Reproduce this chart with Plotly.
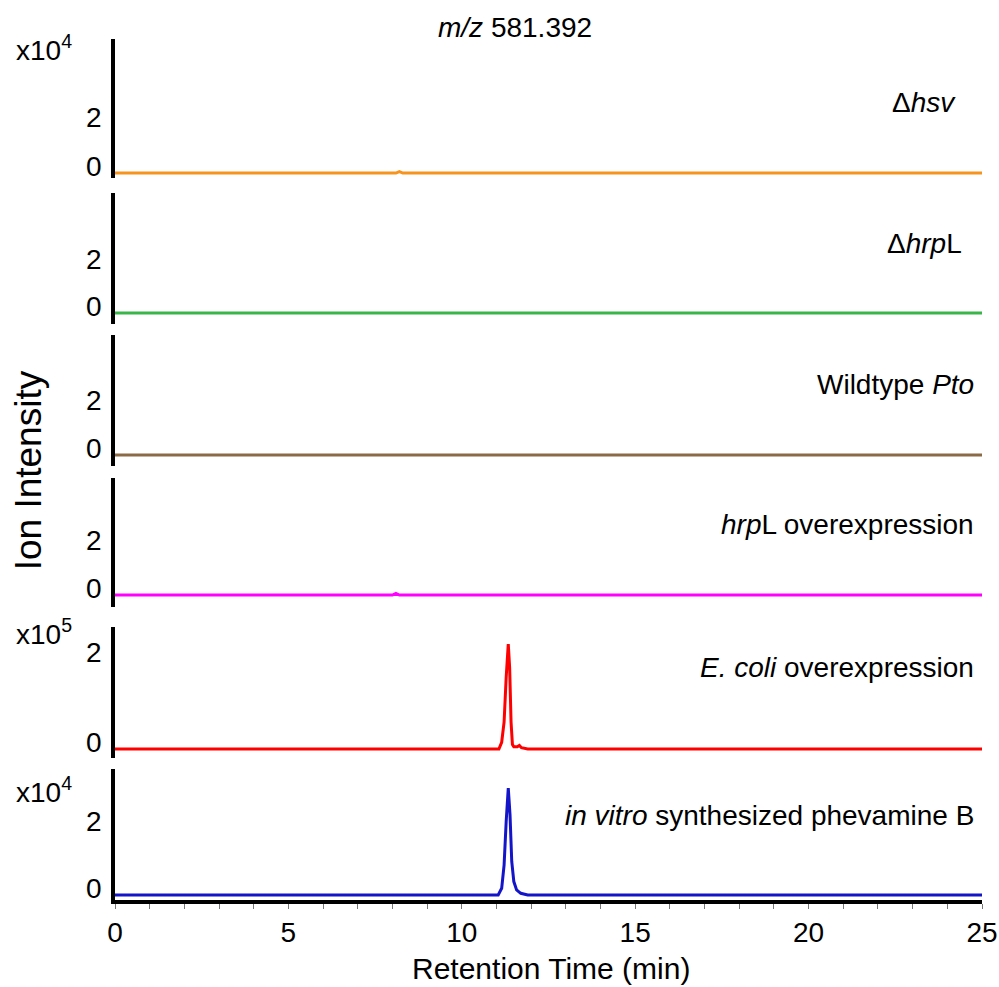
import plotly.graph_objects as go

# ---------------- data (values in panel units: x10^4 or x10^5) ----------------
panel_labels = ["Δ<i>hsv</i>", "Δ<i>hrp</i>L", "Wildtype <i>Pto</i>",
                "<i>hrp</i>L overexpression", "<i>E. coli</i> overexpression",
                "<i>in vitro</i> synthesized phevamine B"]
panel_colors = ["#F7941D", "#39B54A", "#8B6A45", "#FF00FF", "#FF0000", "#1414C8"]
scale_labels = ["x10<sup>4</sup>", None, None, None, "x10<sup>5</sup>", "x10<sup>4</sup>"]

t_hsv = [0, 8.1, 8.2, 8.3, 25]
y_hsv = [0, 0, 0.06, 0, 0]

t_hrpL = [0, 25]
y_hrpL = [0, 0]

t_wt = [0, 25]
y_wt = [0, 0]

t_over = [0, 8.0, 8.1, 8.2, 25]
y_over = [0, 0, 0.07, 0, 0]

t_ecoli = [0, 11.07, 11.15, 11.22, 11.28, 11.34, 11.38, 11.42, 11.46, 11.5, 11.6, 11.66,
           11.72, 11.9, 25]
y_ecoli = [0, 0, 0.15, 0.6, 1.6, 2.33, 1.8, 0.6, 0.1, 0.05, 0.05, 0.08,
           0.03, 0, 0]

t_vitro = [0, 11.05, 11.15, 11.22, 11.28, 11.34, 11.39, 11.44, 11.5, 11.58, 11.7, 11.9, 25]
y_vitro = [0, 0, 0.2, 0.9, 2.2, 3.19, 2.4, 1.0, 0.4, 0.15, 0.05, 0, 0]

series_t = [t_hsv, t_hrpL, t_wt, t_over, t_ecoli, t_vitro]
series_y = [y_hsv, y_hrpL, y_wt, y_over, y_ecoli, y_vitro]

y_ticks = [0, 2]
x_ticks = [0, 5, 10, 15, 20, 25]
x_range = [0, 25]

# ---------------- layout geometry ----------------
domains = [[0.8386, 1.0], [0.669, 0.8211], [0.5041, 0.6562],
           [0.3403, 0.4901], [0.1649, 0.3171], [0.0, 0.1521]]
y_ranges = [[-0.2, 5.47], [-0.47, 5.11], [-0.46, 5.0],
            [-0.5, 4.875], [-0.2, 2.71], [-0.15, 3.76]]
label_x = [0.972, 0.979, 0.993, 0.993, 0.993, 0.993]
label_y = [0.9268, 0.763, 0.599, 0.4367, 0.2706, 0.0987]
scale_y = [0.9895, None, None, None, 0.3113, 0.1278]

FONT = "Liberation Sans, Arial, sans-serif"
FS = 28

fig = go.Figure()
layout = dict(
    width=999, height=987,
    margin=dict(l=115, r=17, t=39, b=87),
    plot_bgcolor="white", paper_bgcolor="white",
    showlegend=False,
    font=dict(family=FONT, size=FS, color="black"),
)

for i in range(6):
    n = "" if i == 0 else str(i + 1)
    fig.add_trace(go.Scatter(
        x=series_t[i], y=series_y[i], mode="lines",
        line=dict(color=panel_colors[i], width=3),
        xaxis="x" + n, yaxis="y" + n, hoverinfo="skip"))
    bottom = (i == 5)
    xa = dict(domain=[0, 1], range=x_range, anchor="y" + n,
              showgrid=False, zeroline=False, automargin=False)
    if bottom:
        xa.update(showline=True, linewidth=3.5, linecolor="black",
                  tickvals=x_ticks, ticks="outside", ticklen=5, tickwidth=1,
                  tickcolor="#777777", ticklabeloverflow="allow",
                  minor=dict(dtick=1, tick0=0, ticks="outside", ticklen=5,
                             tickwidth=1, tickcolor="#777777"),
                  tickfont=dict(size=FS, family=FONT, color="black"))
    else:
        xa.update(visible=False, matches="x6")
    layout["xaxis" + n] = xa
    layout["yaxis" + n] = dict(
        domain=domains[i], range=y_ranges[i], anchor="x" + n,
        showline=True, linewidth=3.5, linecolor="black", automargin=False,
        showgrid=False, zeroline=False, tickvals=y_ticks,
        ticks="", ticklabelshift=-7, ticklabelstandoff=4,
        tickfont=dict(size=FS, family=FONT, color="black"))

fig.update_layout(**layout)

ann = []
for i in range(6):
    ann.append(dict(text=panel_labels[i], xref="paper", yref="paper",
                    x=label_x[i], y=label_y[i], xanchor="right", yanchor="middle",
                    showarrow=False, font=dict(size=FS, family=FONT, color="black")))
    if scale_labels[i]:
        ann.append(dict(text=scale_labels[i], xref="paper", yref="paper",
                        x=-0.1165, y=scale_y[i], xanchor="left", yanchor="middle",
                        showarrow=False, font=dict(size=FS, family=FONT, color="black")))

ann.append(dict(text="<i>m/z</i> 581.392", xref="paper", yref="paper",
                x=0.461, y=1.0128, xanchor="center", yanchor="middle",
                showarrow=False, font=dict(size=FS, family=FONT, color="black")))
ann.append(dict(text="Ion Intensity", xref="paper", yref="paper",
                x=-0.1, y=0.4994, xanchor="center", yanchor="middle", textangle=-90,
                showarrow=False, font=dict(size=37, family=FONT, color="black")))
ann.append(dict(text="Retention Time (min)", xref="paper", yref="paper",
                x=0.503, y=-0.079, xanchor="center", yanchor="middle",
                showarrow=False, font=dict(size=30, family=FONT, color="black")))
fig.update_layout(annotations=ann)

post = ("document.documentElement.style.overflow='hidden';"
        "document.body.style.margin='0';"
        "document.body.style.overflow='hidden';")

fig.write_html("out.html", config={"displayModeBar": False},
               post_script=post)
